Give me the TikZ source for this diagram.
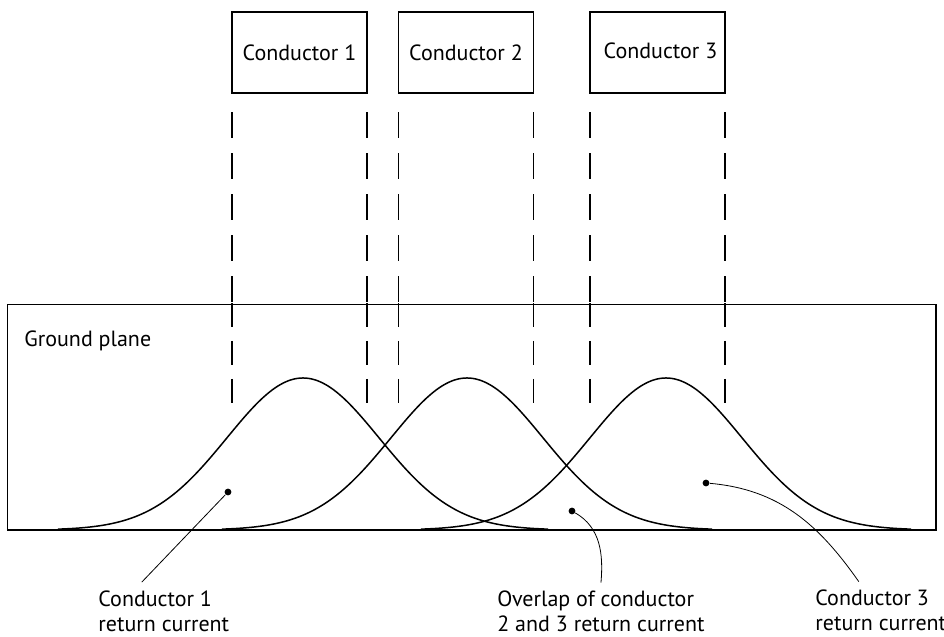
\documentclass[tikz,border=0pt]{standalone}
\usepackage{fontspec}
\setmainfont{PT Sans}
\usetikzlibrary{calc}
\tikzset{
    conductor/.style={draw, line width=0.65pt, outer sep=0pt, inner sep=0pt,
        minimum width=67.5pt, minimum height=40.5pt},
    guide/.style={line width=0.65pt, dash pattern=on 13pt off 7.5pt},
    guidein/.style={line width=0.65pt, dash pattern=on 12pt off 7pt},
    density/.style={line width=0.75pt, line join=round},
    dot/.style={circle, fill, inner sep=0pt, minimum size=3.4pt},
    leader/.style={line width=0.4pt},
    callout/.style={align=left, inner sep=4pt, anchor=west},
}
\begin{document}
\begin{tikzpicture}[x=0.5pt, y=0.5pt, font=\fontsize{11}{12.5}\selectfont]
    \useasboundingbox (0,0) rectangle (944,637);

    % conductors above the plane
    \node[conductor] (c1) at (299.5,584.5) {Conductor 1};
    \node[conductor] (c2) at (466,584.5) {Conductor 2};
    \node[conductor] (c3) at (657.5,584.5) {\raisebox{2pt}{\hspace{3pt}Conductor 3}};

    % ground plane
    \draw[line width=0.65pt] (7.5,107) rectangle (936,332.5);
    \node[anchor=west, inner sep=0pt] (gp) at (24,296) {Ground plane};

    % projection of the conductor edges
    \foreach \c in {c1,c2,c3} {
        \draw[guide]
            ($(\c.south west)+(0,-19.5)$) -- ++(0,-190.5)
            ($(\c.south east)+(0,-19.5)$) -- ++(0,-190.5)
        ;
        \draw[guidein]
            ($(\c.south west)+(0,-210)$) -- ++(0,-100)
            ($(\c.south east)+(0,-210)$) -- ++(0,-100)
        ;
    }

    % return current distributions
    \foreach \m in {303,467,666}
        \draw[density] plot[domain=-245:245, samples=90, smooth]
            ({\m+\x},{107+152*exp(-0.5*(\x/76)^2)});

    % markers
    \node[dot] (d1) at (228,145) {};
    \node[dot] (d2) at (572,126) {};
    \node[dot] (d3) at (706,154) {};

    % callouts
    \node[callout] (r1) at (90,26) {Conductor 1\\return current};
    \node[callout] (r23) at (489,25.5) {Overlap of conductor\\2 and 3 return current};
    \node[callout] (r3) at (807,26.5) {Conductor 3\\return current};

    \draw[leader]
        (d1) -- ([xshift=-11]r1.north)
        (d2) to[out=-30, in=85] (r23.north)
        (d3) to[out=-5, in=125] ([xshift=-11]r3.north)
    ;
\end{tikzpicture}
\end{document}
